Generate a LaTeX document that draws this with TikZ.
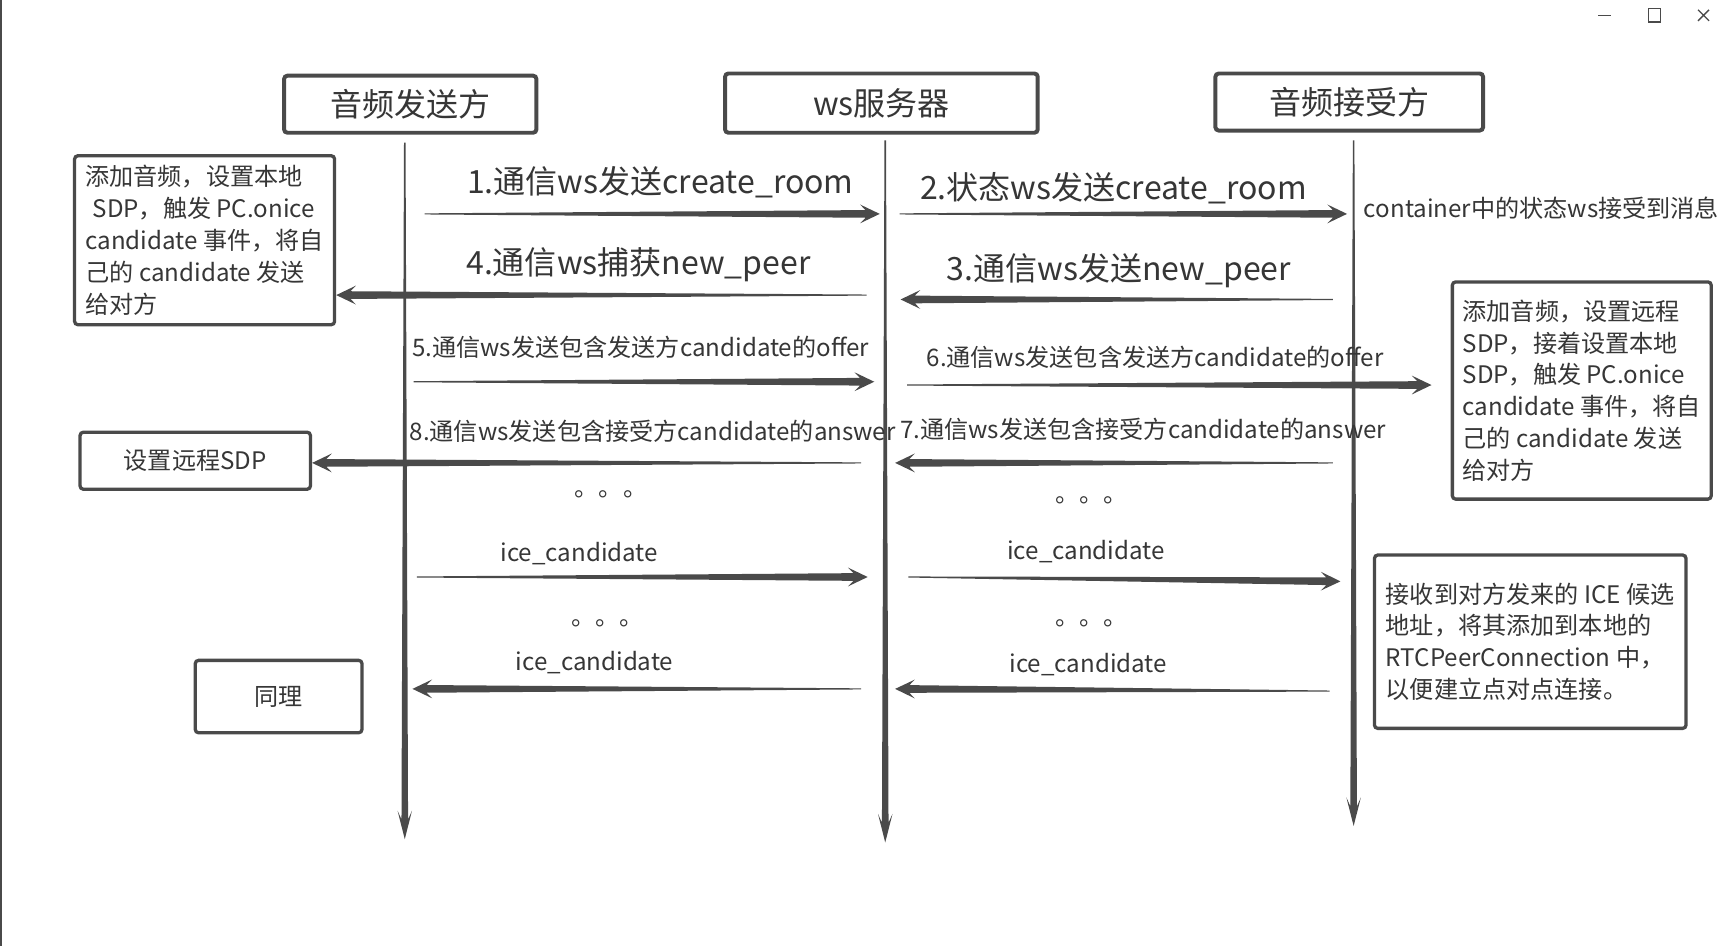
\documentclass[tikz,border=0pt]{standalone}
\usepackage{fontspec}
\setmainfont{Noto Sans CJK SC}
\usetikzlibrary{calc}
\definecolor{ink}{HTML}{4A4A4A}
\definecolor{txt}{HTML}{363636}

\begin{document}
\begin{tikzpicture}[
    x = 0.5pt, y = -0.5pt, % screen pixels, y down
    every node/.style = {text=txt},
    head/.style = {draw=ink, line width=1.8pt, rounded corners=1.5pt, font=\fontsize{14.6}{18}\selectfont},
    note/.style = {draw=ink, line width=1.5pt, rounded corners=1.5pt, align=left, font=\fontsize{11}{14.5}\selectfont},
    big/.style = {font=\fontsize{14.6}{18}\selectfont},
    small/.style = {font=\fontsize{11}{14}\selectfont},
    taper/.style n args = {5}{fill=ink, to path={
        ($(\tikztostart)!#1!90:(\tikztotarget)$)
        -- ($($(\tikztotarget)!#4!(\tikztostart)$)!#2!90:(\tikztotarget)$)
        -- ($($(\tikztotarget)!#5!(\tikztostart)$)!#3!90:(\tikztotarget)$)
        -- (\tikztotarget)
        -- ($($(\tikztotarget)!#5!(\tikztostart)$)!#3!-90:(\tikztotarget)$)
        -- ($($(\tikztotarget)!#4!(\tikztostart)$)!#2!-90:(\tikztotarget)$)
        -- ($(\tikztostart)!#1!-90:(\tikztotarget)$) -- cycle}},
    msg/.style = {taper={0.25pt}{1.75pt}{4.3pt}{6.5pt}{9pt}}, % message arrow
    life/.style = {taper={0.35pt}{1.5pt}{3.3pt}{9pt}{13pt}} % lifeline
]
\useasboundingbox (0,0) rectangle (1568,862);
\fill[white] (0,0) rectangle (1568,862);

% Window frame
\draw[ink, line width=0.8pt] (1,0) -- (1,862);
\draw[ink, line width=0.6pt] (1457,14) -- (1469,14);
\draw[ink, line width=0.6pt] (1503,8) rectangle (1514,20);
\draw[ink, line width=0.6pt] (1548,9) -- (1558,19) (1548,19) -- (1558,9);

% Heads
\node[head, minimum width=115pt, minimum height=26pt] (snd) at (374,95) {音频发送方};
\node[head, minimum width=142.5pt, minimum height=27pt] (srv) at (803.5,94) {ws服务器};
\node[head, minimum width=122pt, minimum height=26pt] (rcv) at (1230,93) {音频接受方};

% Notes
\node[note, minimum width=118.5pt, minimum height=77pt] (sndnote) at (186.5,219)
    {添加音频，设置本地\\\hspace*{0.3em}SDP，触发 PC.onice\\candidate 事件，将自\\己的 candidate 发送\\给对方};
\node[note, minimum width=105pt, minimum height=26pt] (setsdp) at (178,420) {设置远程SDP};
\node[note, minimum width=76pt, minimum height=33pt] (same) at (254,635) {同理};
\node[note, minimum width=118pt, minimum height=99pt] (rcvnote) at (1442,356)
    {添加音频，设置远程\\SDP，接着设置本地\\SDP，触发 PC.onice\\candidate 事件，将自\\己的 candidate 发送\\给对方};
\node[note, minimum width=142pt, minimum height=79pt] (icenote) at (1395,585)
    {接收到对方发来的 ICE 候选\\地址，将其添加到本地的\\RTCPeerConnection 中，\\以便建立点对点连接。};
\node[small, anchor=west, inner sep=0pt] (got) at (1243,190) {container中的状态ws接受到消息};

% Lifelines
\coordinate (l1t) at (369,130); \coordinate (l1b) at (369,765);
\coordinate (l2t) at (807,128); \coordinate (l2b) at (807,768);
\coordinate (l3t) at (1234,128); \coordinate (l3b) at (1234,753);
\path[life] (l1t) to (l1b);
\path[life] (l2t) to (l2b);
\path[life] (l3t) to (l3b);

% Message ends
\coordinate (m1s) at (387,195);  \coordinate (m1e) at (802,195);
\coordinate (m2s) at (820,195);  \coordinate (m2e) at (1228,195);
\coordinate (m4s) at (790,269);  \coordinate (m4e) at (sndnote.east |- 0,269);
\coordinate (m3s) at (1215,273); \coordinate (m3e) at (821,273);
\coordinate (m5s) at (377,348);  \coordinate (m5e) at (797,348);
\coordinate (m6s) at (827,351);  \coordinate (m6e) at (1305,351);
\coordinate (m8s) at (785,422);  \coordinate (m8e) at (setsdp.east |- 0,422);
\coordinate (m7s) at (1215,422); \coordinate (m7e) at (816,422);
\coordinate (c1s) at (380,526);  \coordinate (c1e) at (791,526);
\coordinate (c2s) at (828,526);  \coordinate (c2e) at (1222,530);
\coordinate (c3s) at (785,628);  \coordinate (c3e) at (376,628);
\coordinate (c4s) at (1212,630); \coordinate (c4e) at (816,628);

% Messages
\path[msg] (m1s) to (m1e);
\path[msg] (m2s) to (m2e);
\path[msg] (m4s) to (m4e);
\path[msg] (m3s) to (m3e);
\path[msg] (m5s) to (m5e);
\path[msg] (m6s) to (m6e);
\path[msg] (m8s) to (m8e);
\path[msg] (m7s) to (m7e);
\path[msg] (c1s) to (c1e);
\path[msg] (c2s) to (c2e);
\path[msg] (c3s) to (c3e);
\path[msg] (c4s) to (c4e);

% Labels
\node[big] (t1) at (602,166) {1.通信ws发送create\_room};
\node[big] (t2) at (1015,172) {2.状态ws发送create\_room};
\node[big] (t4) at (582,241) {4.通信ws捕获new\_peer};
\node[big] (t3) at (1020,247) {3.通信ws发送new\_peer};
\node[small] (t5) at (584,317) {5.通信ws发送包含发送方candidate的offer};
\node[small] (t6) at (1053,326) {6.通信ws发送包含发送方candidate的offer};
\node[small] (t8) at (595,393) {8.通信ws发送包含接受方candidate的answer};
\node[small] (t7) at (1042,391) {7.通信ws发送包含接受方candidate的answer};
\node[small] (i1) at (528,505) {ice\_candidate};
\node[small] (i2) at (990,503) {ice\_candidate};
\node[small] (i3) at (542,604) {ice\_candidate};
\node[small] (i4) at (992,606) {ice\_candidate};
\node[small] (d1) at (557,451) {。。。};
\node[small] (d2) at (995,456) {。。。};
\node[small] (d3) at (554,568) {。。。};
\node[small] (d4) at (995,568) {。。。};

\end{tikzpicture}
\end{document}
